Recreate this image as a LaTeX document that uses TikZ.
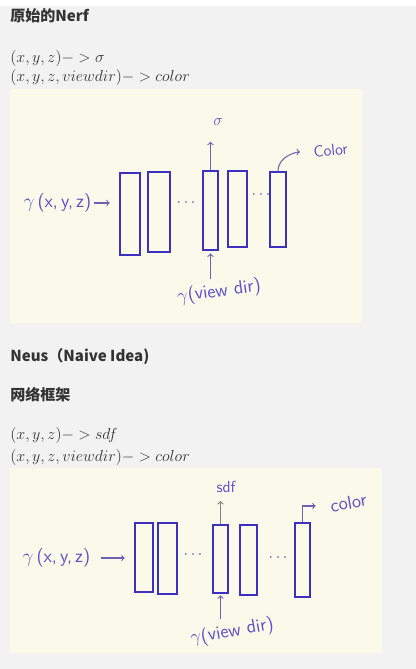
\documentclass[tikz,border=0pt]{standalone}
\usepackage{fontspec}
\newfontfamily\cjk{Noto Sans CJK SC}
\definecolor{pen}{HTML}{3C30BE}
\definecolor{penlight}{HTML}{6A62B4}
\definecolor{paper}{HTML}{FBF9EA}
\definecolor{page}{HTML}{F2F2F2}
\definecolor{ink}{HTML}{333333}
\begin{document}
\begin{tikzpicture}[x=0.75pt,y=-0.75pt]
      \tikzstyle{STY1} = [draw=pen, line width=1.4pt, rectangle, inner sep=0pt]
      \tikzstyle{STY2} = [->, draw=penlight, line width=0.8pt]
      \tikzstyle{STY3} = [text=pen!85, font=\sffamily\fontsize{12}{14}\selectfont, inner sep=1pt]
      \tikzstyle{STY4} = [anchor=west, inner sep=0pt, text=ink, font=\cjk\bfseries\fontsize{11.3}{13}\selectfont]
      \tikzstyle{STY5} = [anchor=west, inner sep=0pt, text=ink, font=\fontsize{12.6}{14}\selectfont]
      \tikzstyle{STY6} = [STY3, font=\sffamily\fontsize{14}{16}\selectfont]

      \useasboundingbox (0,0) rectangle (416,669);
      \fill[page] (0,0) rectangle (416,669);
      \fill[white] (0,0) rectangle (416,6);
      \fill[paper] (10,89) rectangle (362,323);
      \fill[paper] (10,468) rectangle (382,653);

      %%%%% TEXT

      \node[STY4](h1) at (10,16) {原始的Nerf};
      \node[STY5](f1) at (10,58) {$(x,y,z)->\sigma$};
      \node[STY5](f2) at (10,77) {$(x,y,z,viewdir)->color$};

      \node[STY4](h2) at (10,357) {Neus（Naive Idea)};
      \node[STY4](h3) at (10,395) {网络框架};
      \node[STY5](f3) at (10,435) {$(x,y,z)->sdf$};
      \node[STY5](f4) at (10,457) {$(x,y,z,viewdir)->color$};

      %%%%% NERF

      \node[STY1, minimum width=15pt, minimum height=61pt](v1) at (130,214) {};
      \node[STY1, minimum width=16pt, minimum height=60pt](v2) at (159,212) {};
      \node[STY1, minimum width=11pt, minimum height=59pt](v3) at (210.5,210.5) {};
      \node[STY1, minimum width=14pt, minimum height=57pt](v4) at (237.5,209) {};
      \node[STY1, minimum width=12pt, minimum height=56pt](v5) at (278,209.5) {};

      \node[STY3](d1) at (186,203) {$\cdots$};
      \node[STY3](d2) at (261,195) {$\cdots$};

      \node[STY6, anchor=west](v0) at (22,203) {{\Large$\gamma$}\,(x,\,y,\,z)};
      \node[STY3](s1) at (218,122) {\large$\sigma$};
      \node[STY3, anchor=west, rotate=6](c1) at (312,152) {Color};
      \node[STY6, rotate=8](g1) at (219,292) {$\gamma$(view\,\,dir)};

      \draw[STY2, shorten <=1pt, shorten >=7pt]  (v0.east) -- (v0.east -| v1.west);
      \draw[STY2, shorten >=11pt]  (v3.north) -- (v3.north |- s1.south);
      \draw[STY2, shorten >=9pt]  (v5.north) to[out=90, in=180] (c1.west);
      \draw[STY2, shorten <=2pt, shorten >=2pt]  (v3.south |- g1.north) -- (v3.south);

      %%%%% NEUS

      \node[STY1, minimum width=13.5pt, minimum height=52pt](w1) at (144,557.5) {};
      \node[STY1, minimum width=14pt, minimum height=53pt](w2) at (167.5,558.5) {};
      \node[STY1, minimum width=11pt, minimum height=51pt](w3) at (220.5,559) {};
      \node[STY1, minimum width=13pt, minimum height=52.5pt](w4) at (248.5,560) {};
      \node[STY1, minimum width=11pt, minimum height=55.5pt](w5) at (302.5,560) {};

      \node[STY3](d3) at (193,555) {$\cdots$};
      \node[STY3](d4) at (278,558) {$\cdots$};

      \node[STY6, anchor=west](w0) at (21,558) {{\Large$\gamma$}\,(x,\,y,\,z)};
      \node[STY3](s2) at (226,487) {sdf};
      \node[STY6, anchor=west, rotate=10](c2) at (329,506) {color};
      \node[STY6, rotate=10](g2) at (232,632) {$\gamma$(view\,\,dir)};

      \draw[STY2, shorten <=7pt, shorten >=7pt]  (w0.east) -- (w0.east -| w1.west);
      \draw[STY2, draw=gray, shorten >=5pt]  (w3.north) -- (w3.north |- s2.south);
      \draw[STY2, shorten >=10pt]  (w5.north) |- (c2.west);
      \draw[STY2, shorten <=2pt, shorten >=1pt]  (w3.south |- g2.north) -- (w3.south);
    \end{tikzpicture}
\end{document}
